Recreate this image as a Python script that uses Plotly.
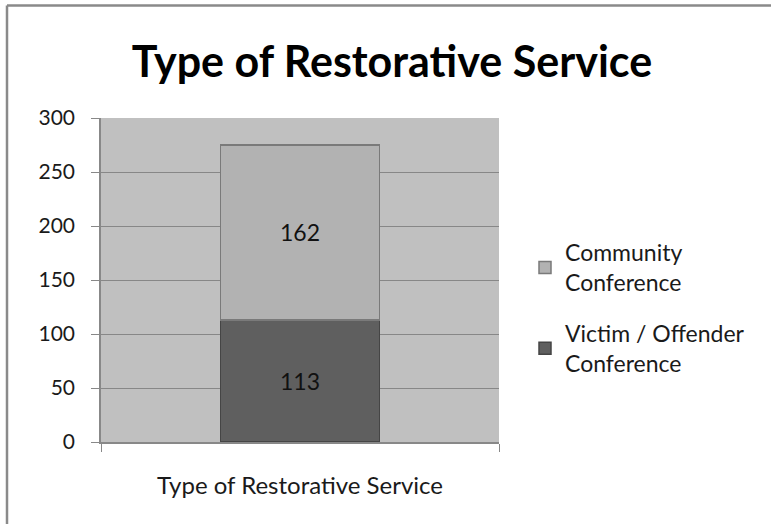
import plotly.graph_objects as go

categories = ["Type of Restorative Service"]
victim_offender = [113]
community = [162]
series_names = ["Victim / Offender<br>Conference", "Community<br>Conference"]
y_ticks = [0, 50, 100, 150, 200, 250, 300]

W, H = 771, 524
L, R, T, B = 101, 272, 118, 82
pw, ph = W - L - R, H - T - B

def px_x(x):
    return (x - L) / pw

def px_y(y):
    return (H - B - y) / ph

FONT = "Lato"

fig = go.Figure()
fig.add_trace(go.Bar(
    x=categories, y=victim_offender, name=series_names[0],
    marker=dict(color="#5f5f5f", line=dict(color="#454545", width=1.5)),
    text=[str(v) for v in victim_offender], textposition="inside",
    insidetextanchor="middle", textfont=dict(color="#111111", size=23, family=FONT),
    width=0.4, legendgroup="a", legendrank=2,
))
fig.add_trace(go.Bar(
    x=categories, y=community, name=series_names[1],
    marker=dict(color="#b2b2b2", line=dict(color="#7a7a7a", width=1.5)),
    text=[str(v) for v in community], textposition="inside",
    insidetextanchor="middle", textfont=dict(color="#111111", size=23, family=FONT),
    width=0.4, legendgroup="b", legendrank=1,
))

fig.update_layout(
    width=W, height=H,
    margin=dict(l=L, r=R, t=T, b=B),
    barmode="stack",
    paper_bgcolor="white",
    plot_bgcolor="#c0c0c0",
    font=dict(family=FONT, color="#1a1a1a", size=22),
    title=dict(text="<b>Type of Restorative Service</b>", x=392 / W, xref="container",
               xanchor="center", y=(H - 62) / H, yanchor="middle",
               font=dict(size=43, family=FONT, color="#000000")),
    legend=dict(x=px_x(525), xanchor="left", y=px_y(231), yanchor="top",
                traceorder="grouped", tracegroupgap=18,
                font=dict(size=23, family=FONT, color="#1a1a1a"),
                bgcolor="rgba(0,0,0,0)"),
    showlegend=True,
    uniformtext=dict(minsize=10, mode="show"),
)
fig.update_xaxes(
    type="category", showgrid=False, showline=True, linecolor="#888888", linewidth=1.5,
    ticks="outside", tickson="boundaries", ticklen=8, tickcolor="#888888",
    ticklabelstandoff=21, tickfont=dict(size=24, family=FONT, color="#1a1a1a"),
)
fig.update_yaxes(
    range=[0, 300], tickvals=y_ticks, showgrid=True, gridcolor="#878787", gridwidth=1,
    showline=True, linecolor="#888888", linewidth=1.5, ticks="outside", ticklen=8,
    tickcolor="#888888", ticklabelstandoff=12,
    tickfont=dict(size=21, family=FONT, color="#1a1a1a"),
    zeroline=False,
)

# outer chart border (top and left visible)
fig.add_shape(type="line", xref="paper", yref="paper",
              x0=px_x(7), x1=px_x(W + 5), y0=px_y(5.5), y1=px_y(5.5),
              line=dict(color="#8a8a8a", width=2.5))
fig.add_shape(type="line", xref="paper", yref="paper",
              x0=px_x(7), x1=px_x(7), y0=px_y(5.5), y1=px_y(H + 5),
              line=dict(color="#8a8a8a", width=2.5))

fig.write_html("out.html", config={"displayModeBar": False},
               post_script="document.body.style.margin='0';")
